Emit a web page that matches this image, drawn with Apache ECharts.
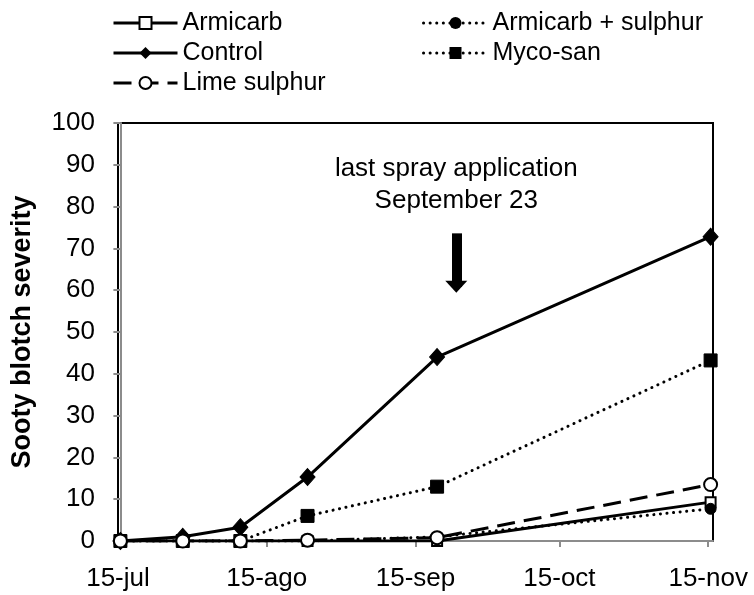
<!DOCTYPE html>
<html>
<head>
<meta charset="utf-8">
<script src="https://cdn.jsdelivr.net/npm/echarts@6/dist/echarts.min.js"></script>
<style>
  html, body { margin: 0; padding: 0; background: #fff; }
  #chart { width: 754px; height: 595px; }
</style>
</head>
<body>
<div id="chart"></div>
<script>
// sampling dates as days after 15-jul (15-jul, 28-jul, 9-ago, 23-ago, 19-sep, 15-nov)
const sampleDays = [0, 13, 25, 39, 66, 123]
// axis ticks on the 15th of each month
const tickDays = [0, 31, 62, 92, 123]
const tickLabels = ['15-jul', '15-ago', '15-sep', '15-oct', '15-nov']

const armicarb = [0, 0, 0, 0, 0, 9.3]
const armicarbSulphur = [0, 0, 0, 0, 1.0, 7.7]
const control = [0, 1, 3.3, 15.3, 44, 72.8]
const mycoSan = [0, 0, 0, 6, 13, 43.2]
const limeSulphur = [0, 0, 0, 0.2, 0.8, 13.5]

// last spray application, September 23
const sprayDay = 70

const font = 'Liberation Sans, Arial, sans-serif'
const axisGray = '#8c8c8c'

// excel date axis: each day is a slot, ticks sit on the slot edge
const tickValues = tickDays.map(d => d - 0.5)

function pairs (ys) {
  return ys.map((y, i) => [sampleDays[i], y])
}

const legendBase = {
  top: 5,
  orient: 'vertical',
  itemWidth: 64,
  itemHeight: 15,
  itemGap: 4,
  lineStyle: { width: 3 },
  textStyle: { fontSize: 25, color: '#000', lineHeight: 26, fontFamily: font }
}

const chart = echarts.init(document.getElementById('chart'))

chart.setOption({
  animation: false,
  backgroundColor: '#fff',
  textStyle: { fontFamily: font },
  grid: {
    left: 118,
    right: 41,
    top: 123,
    bottom: 54,
    show: true,
    borderColor: '#000',
    borderWidth: 2
  },
  legend: [
    Object.assign({}, legendBase, {
      left: 107,
      data: ['Armicarb', 'Control', 'Lime sulphur']
    }),
    Object.assign({}, legendBase, {
      left: 417,
      data: ['Armicarb + sulphur', 'Myco-san']
    })
  ],
  xAxis: {
    type: 'value',
    min: -0.5,
    max: 123.5,
    splitLine: { show: false },
    axisLine: { lineStyle: { color: axisGray, width: 2 } },
    axisTick: {
      customValues: tickValues,
      length: 6,
      lineStyle: { color: axisGray, width: 2 }
    },
    axisLabel: {
      customValues: tickValues,
      fontSize: 26,
      color: '#000',
      margin: 25,
      formatter: v => tickLabels[tickValues.indexOf(v)] || ''
    }
  },
  yAxis: {
    type: 'value',
    min: 0,
    max: 100,
    interval: 10,
    name: 'Sooty blotch severity',
    nameLocation: 'middle',
    nameGap: 82,
    nameTextStyle: { fontSize: 27, fontWeight: 'bold', color: '#000' },
    splitLine: { show: false },
    axisLine: { lineStyle: { color: axisGray, width: 2 } },
    axisTick: { length: 7, lineStyle: { color: axisGray, width: 2 } },
    axisLabel: { fontSize: 26, color: '#000', margin: 23 }
  },
  series: [
    {
      name: 'Armicarb',
      type: 'line',
      data: pairs(armicarb),
      symbol: 'rect',
      symbolSize: 10,
      lineStyle: { color: '#000', width: 3 },
      itemStyle: { color: '#fff', borderColor: '#000', borderWidth: 2 }
    },
    {
      name: 'Armicarb + sulphur',
      type: 'line',
      data: pairs(armicarbSulphur),
      symbol: 'circle',
      symbolSize: 11,
      lineStyle: { color: '#000', width: 3, type: [0.1, 6.5], cap: 'round' },
      itemStyle: { color: '#000', borderColor: '#000' }
    },
    {
      name: 'Control',
      type: 'line',
      data: pairs(control),
      symbol: 'diamond',
      symbolSize: [15, 17],
      lineStyle: { color: '#000', width: 3 },
      itemStyle: { color: '#000', borderColor: '#000' },
      markLine: {
        silent: true,
        symbol: ['none', 'triangle'],
        symbolSize: [22, 12],
        label: { show: false },
        lineStyle: { color: '#000', width: 10, type: 'solid' },
        data: [[{ coord: [sprayDay, 73.6] }, { coord: [sprayDay, 60.8] }]]
      },
      markPoint: {
        silent: true,
        symbol: 'circle',
        symbolSize: 0,
        data: [{ coord: [sprayDay, 85.3] }],
        label: {
          show: true,
          position: 'inside',
          formatter: 'last spray application\nSeptember 23',
          fontSize: 26,
          lineHeight: 32,
          color: '#000',
          fontFamily: font
        }
      }
    },
    {
      name: 'Myco-san',
      type: 'line',
      data: pairs(mycoSan),
      symbol: 'rect',
      symbolSize: 13,
      lineStyle: { color: '#000', width: 3, type: [0.1, 6.5], cap: 'round' },
      itemStyle: { color: '#000', borderColor: '#000' }
    },
    {
      name: 'Lime sulphur',
      type: 'line',
      data: pairs(limeSulphur),
      symbol: 'circle',
      symbolSize: 13,
      lineStyle: { color: '#000', width: 3, type: [18, 9] },
      itemStyle: { color: '#fff', borderColor: '#000', borderWidth: 2 }
    }
  ]
})
</script>
</body>
</html>
